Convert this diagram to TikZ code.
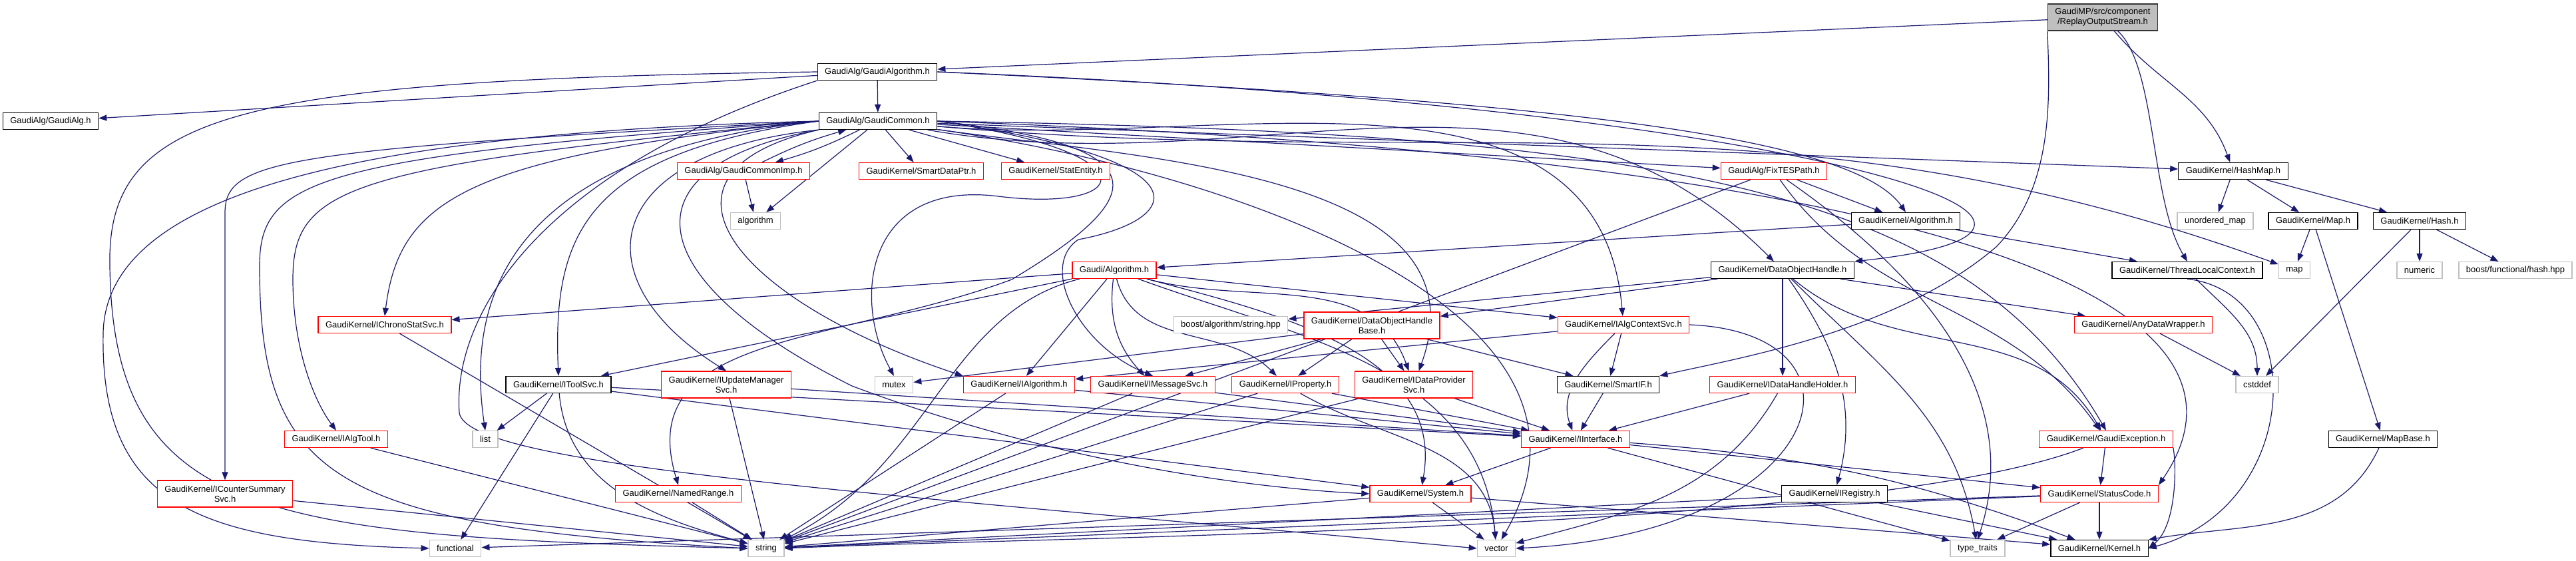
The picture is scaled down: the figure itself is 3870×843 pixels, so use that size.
\documentclass[tikz,border=0pt]{standalone}
\usepackage{fontspec}
\setmainfont{Liberation Sans}
\usetikzlibrary{arrows.meta}
\definecolor{edgeblue}{HTML}{191970}
\definecolor{grey75}{HTML}{BFBFBF}
\newcommand{\graphfont}{\fontsize{1.3}{1.5}\selectfont}
\pgfdeclarelayer{edges}
\pgfsetlayers{edges,main}

\begin{document}
\begin{tikzpicture}[
    x=0.1pt, y=0.1pt,
    docbox/.style={draw=black, fill=white, line width=0.13pt, minimum height=2.5pt, inner xsep=1.1pt, inner ysep=0.2pt, font=\graphfont, align=center},
    redbox/.style={docbox, draw=red},
    sysbox/.style={docbox, draw=grey75},
    rootbox/.style={docbox, fill=grey75, draw=black!80},
    twoline/.style={minimum height=4pt},
    arrow/.style={->, >={Triangle[length=1.2pt, width=0.9pt]}, draw=edgeblue, line width=0.12pt}
]
    \useasboundingbox (0,0) rectangle (3870,-843);

    \node[rootbox, twoline] (R) at (3159,-26) {GaudiMP/src/component\\/ReplayOutputStream.h};
    \node[docbox] (GA) at (1318,-108) {GaudiAlg/GaudiAlgorithm.h};
    \node[docbox] (GAh) at (76,-182) {GaudiAlg/GaudiAlg.h};
    \node[docbox] (GC) at (1319,-182) {GaudiAlg/GaudiCommon.h};
    \node[redbox] (GCImp) at (1117,-257) {GaudiAlg/GaudiCommonImp.h};
    \node[redbox] (SDP) at (1384,-257) {GaudiKernel/SmartDataPtr.h};
    \node[redbox] (StatE) at (1586,-257) {GaudiKernel/StatEntity.h};
    \node[redbox] (FixTES) at (2665,-257) {GaudiAlg/FixTESPath.h};
    \node[docbox] (HM) at (3355,-257) {GaudiKernel/HashMap.h};
    \node[sysbox] (algo) at (1135,-332) {algorithm};
    \node[docbox] (KAlg) at (2863,-332) {GaudiKernel/Algorithm.h};
    \node[sysbox] (umap) at (3328,-332) {unordered\_map};
    \node[docbox] (Map) at (3475,-332) {GaudiKernel/Map.h};
    \node[docbox] (Hash) at (3635,-332) {GaudiKernel/Hash.h};
    \node[redbox] (GAlg) at (1674,-406) {Gaudi/Algorithm.h};
    \node[docbox] (DOH) at (2678,-406) {GaudiKernel/DataObjectHandle.h};
    \node[docbox] (TLC) at (3286,-406) {GaudiKernel/ThreadLocalContext.h};
    \node[sysbox] (map) at (3447,-406) {map};
    \node[sysbox] (numeric) at (3635,-406) {numeric};
    \node[sysbox] (bhash) at (3779,-406) {boost/functional/hash.hpp};
    \node[redbox] (IChrono) at (578,-488) {GaudiKernel/IChronoStatSvc.h};
    \node[sysbox] (bstr) at (1849,-488) {boost/algorithm/string.hpp};
    \node[redbox, twoline] (DOHB) at (2061,-489) {GaudiKernel/DataObjectHandle\\Base.h};
    \node[redbox] (IAlgCtx) at (2439,-488) {GaudiKernel/IAlgContextSvc.h};
    \node[redbox] (ADW) at (3220,-488) {GaudiKernel/AnyDataWrapper.h};
    \node[docbox] (IToolSvc) at (839,-578) {GaudiKernel/IToolSvc.h};
    \node[redbox, twoline] (IUpd) at (1091,-578) {GaudiKernel/IUpdateManager\\Svc.h};
    \node[sysbox] (mutex) at (1343,-578) {mutex};
    \node[redbox] (IAlgo) at (1531,-578) {GaudiKernel/IAlgorithm.h};
    \node[redbox] (IMsg) at (1732,-578) {GaudiKernel/IMessageSvc.h};
    \node[redbox] (IProp) at (1931,-578) {GaudiKernel/IProperty.h};
    \node[redbox, twoline] (IDP) at (2124,-578) {GaudiKernel/IDataProvider\\Svc.h};
    \node[docbox] (SIF) at (2416,-578) {GaudiKernel/SmartIF.h};
    \node[redbox] (IDHH) at (2678,-578) {GaudiKernel/IDataHandleHolder.h};
    \node[sysbox] (cstddef) at (3391,-578) {cstddef};
    \node[redbox] (IAlgTool) at (505,-660) {GaudiKernel/IAlgTool.h};
    \node[sysbox] (list) at (729,-660) {list};
    \node[redbox] (IIf) at (2367,-660) {GaudiKernel/IInterface.h};
    \node[redbox] (GExc) at (3164,-660) {GaudiKernel/GaudiException.h};
    \node[docbox] (MapBase) at (3580,-660) {GaudiKernel/MapBase.h};
    \node[redbox, twoline] (ICnt) at (338,-742) {GaudiKernel/ICounterSummary\\Svc.h};
    \node[redbox] (NR) at (1019,-742) {GaudiKernel/NamedRange.h};
    \node[redbox] (Sys) at (2134,-742) {GaudiKernel/System.h};
    \node[docbox] (IReg) at (2756,-742) {GaudiKernel/IRegistry.h};
    \node[redbox] (SC) at (3154,-742) {GaudiKernel/StatusCode.h};
    \node[sysbox] (functional) at (684,-824) {functional};
    \node[sysbox] (string) at (1151,-824) {string};
    \node[sysbox] (vector) at (2248,-824) {vector};
    \node[sysbox] (ttraits) at (2971,-824) {type\_traits};
    \node[docbox] (Kernel) at (3154,-824) {GaudiKernel/Kernel.h};

    \begin{pgfonlayer}{edges}
    \draw[arrow] (R) -- (GA);
    \draw[arrow] (R) to[out=-50,in=110] (HM);
    \draw[arrow] (R) .. controls (3240,-100) and (3230,-300) .. (TLC.north);
    \draw[arrow] (R.south west) .. controls (3080,-150) and (3085,-280) .. (3000,-370) .. controls (2850,-500) and (2600,-540) .. (SIF.north east);

    \draw[arrow] (GA) -- (GC);
    \draw[arrow] (GA) -- (GAh);
    \draw[arrow] (GA.east) .. controls (2300,-150) and (2780,-200) .. (KAlg.north);
    \draw[arrow] (GA.east) .. controls (2700,-160) and (3280,-340) .. (DOH.north east);
    \draw[arrow] (GA.west) .. controls (350,-120) and (160,-170) .. (165,-400) .. controls (170,-780) and (400,-805) .. (string.west);
    \draw[arrow] (GA.south west) .. controls (800,-260) and (680,-480) .. (690,-620) .. controls (700,-700) and (1300,-740) .. (vector.west);

    \draw[arrow] (GC) to[bend left=5] (GCImp);
    \draw[arrow] (GCImp) to[bend left=5] (GC);
    \draw[arrow] (GC) -- (algo);
    \draw[arrow] (GCImp) -- (algo);
    \draw[arrow] (GC) -- (SDP);
    \draw[arrow] (GC) -- (StatE);
    \draw[arrow] (GC) -- (FixTES);
    \draw[arrow] (GC) -- (HM);
    \draw[arrow] (GC) to[out=-5,in=160] (map);
    \draw[arrow] (GC.west) .. controls (500,-200) and (160,-300) .. (155,-500) .. controls (150,-760) and (300,-815) .. (functional.west);
    \draw[arrow] (GC.west) .. controls (420,-225) and (338,-240) .. (338,-320) -- (ICnt.north);
    \draw[arrow] (GC.west) .. controls (470,-235) and (390,-270) .. (390,-400) .. controls (390,-720) and (500,-790) .. (string.west);
    \draw[arrow] (GC.west) .. controls (520,-250) and (440,-280) .. (440,-420) .. controls (440,-520) and (470,-600) .. (IAlgTool.north);
    \draw[arrow] (GC.west) .. controls (700,-235) and (600,-300) .. (IChrono.north);
    \draw[arrow] (GC.west) .. controls (760,-230) and (700,-450) .. (list.north);
    \draw[arrow] (GC.west) .. controls (880,-230) and (830,-350) .. (IToolSvc.north);
    \draw[arrow] (GC.south west) .. controls (900,-230) and (870,-420) .. (IUpd.north);
    \draw[arrow] (GC.south west) .. controls (950,-260) and (1100,-450) .. (IAlgo.north west);
    \draw[arrow] (GC.south west) .. controls (930,-250) and (960,-420) .. (1280,-580) .. controls (1600,-700) and (1900,-735) .. (Sys.west);
    \draw[arrow] (GC.east) .. controls (1740,-230) and (1700,-320) .. (1500,-295) .. controls (1300,-270) and (1280,-450) .. (mutex.north);
    \draw[arrow] (GC.east) .. controls (1760,-220) and (1720,-300) .. (1520,-420) .. controls (1250,-520) and (950,-500) .. (NR.north);
    \draw[arrow] (GC.east) .. controls (1820,-240) and (1780,-330) .. (1620,-360) .. controls (1560,-400) and (1620,-520) .. (IMsg.north);
    \draw[arrow] (GC) to[out=-8,in=70] (IDP);
    \draw[arrow] (GC) to[out=-5,in=95] (IAlgCtx);
    \draw[arrow] (GC) to[out=-10,in=135] (DOH);
    \draw[arrow] (GC.east) .. controls (2500,-200) and (2950,-280) .. (GExc.north);
    \draw[arrow] (GC.east) .. controls (3000,-240) and (3420,-470) .. (SC.north east);
    \draw[arrow] (GC) to[out=-8,in=60] (vector);

    \draw[arrow] (FixTES) -- (KAlg);
    \draw[arrow] (FixTES) to[out=-55,in=125] (GExc);
    \draw[arrow] (FixTES) .. controls (2900,-420) and (3040,-600) .. (ttraits.north);
    \draw[arrow] (FixTES) -- (string);
    \draw[arrow] (KAlg) -- (GAlg);
    \draw[arrow] (KAlg) -- (TLC);

    \draw[arrow] (HM) -- (umap);
    \draw[arrow] (HM) -- (Map);
    \draw[arrow] (HM) -- (Hash);
    \draw[arrow] (Map) -- (map);
    \draw[arrow] (Map) -- (MapBase);
    \draw[arrow] (Hash) -- (numeric);
    \draw[arrow] (Hash) -- (bhash);
    \draw[arrow] (Hash) -- (cstddef);
    \draw[arrow] (MapBase) to[out=-115,in=10] (Kernel);
    \draw[arrow] (TLC) to[out=-45,in=90] (cstddef);
    \draw[arrow] (TLC.south) .. controls (3470,-440) and (3460,-760) .. (Kernel.east);
    \draw[arrow] (ADW) -- (cstddef);

    \draw[arrow] (GAlg) -- (IChrono);
    \draw[arrow] (GAlg) -- (IToolSvc);
    \draw[arrow] (GAlg) -- (IAlgo);
    \draw[arrow] (GAlg) to[bend right=25] (IMsg);
    \draw[arrow] (GAlg) to[out=-75,in=135] (IProp);
    \draw[arrow] (GAlg) to[out=-15,in=110] (IDP);
    \draw[arrow] (GAlg) -- (IAlgCtx);
    \draw[arrow] (GAlg) to[out=-15,in=80] (Sys);
    \draw[arrow] (GAlg) to[out=-20,in=95] (vector);
    \draw[arrow] (GAlg) .. controls (1420,-470) and (1400,-700) .. (string);

    \draw[arrow] (DOH) -- (DOHB);
    \draw[arrow] (DOH) -- (bstr);
    \draw[arrow] (DOH) -- (ADW);
    \draw[arrow] (DOH) -- (IDHH);
    \draw[arrow] (DOH) to[out=-55,in=75] (IReg);
    \draw[arrow] (DOH) to[out=-40,in=120] (GExc);
    \draw[arrow] (DOH) to[out=-45,in=100] (ttraits);

    \draw[arrow] (DOHB) -- (IProp);
    \draw[arrow] (DOHB) -- (IDP);
    \draw[arrow] (DOHB) -- (SIF);
    \draw[arrow] (DOHB) -- (IMsg);
    \draw[arrow] (DOHB) -- (mutex);

    \draw[arrow] (IAlgCtx) -- (SIF);
    \draw[arrow] (IAlgCtx) -- (IAlgo);
    \draw[arrow] (IAlgCtx) to[out=-135,in=110] (IIf);
    \draw[arrow] (IAlgCtx.east) .. controls (2830,-500) and (2750,-800) .. (vector.east);

    \draw[arrow] (IToolSvc) -- (list);
    \draw[arrow] (IToolSvc) -- (functional);
    \draw[arrow] (IToolSvc) to[out=-85,in=165] (string);
    \draw[arrow] (IToolSvc) -- (IIf);
    \draw[arrow] (IToolSvc) -- (Sys);
    \draw[arrow] (IUpd) -- (string);
    \draw[arrow] (IUpd) -- (IIf);
    \draw[arrow] (NR) -- (string);
    \draw[arrow] (IAlgo) -- (string);
    \draw[arrow] (IAlgo) -- (IIf);
    \draw[arrow] (IMsg) -- (string);
    \draw[arrow] (IMsg) -- (IIf);
    \draw[arrow] (IProp) -- (string);
    \draw[arrow] (IProp) -- (IIf);
    \draw[arrow] (IProp) to[out=-30,in=95] (vector);
    \draw[arrow] (IDP) -- (string);
    \draw[arrow] (IDP) -- (IIf);
    \draw[arrow] (SIF) -- (IIf);
    \draw[arrow] (IDHH) -- (IIf);
    \draw[arrow] (IDHH) to[out=-120,in=15] (vector);

    \draw[arrow] (IIf) -- (Sys);
    \draw[arrow] (IIf) -- (SC);
    \draw[arrow] (IIf) to[bend left=8] (Kernel);
    \draw[arrow] (IIf) -- (ttraits);
    \draw[arrow] (GExc) -- (SC);
    \draw[arrow] (GExc.south east) .. controls (3270,-700) and (3270,-790) .. (Kernel.east);
    \draw[arrow] (GExc) .. controls (2800,-800) and (1600,-805) .. (string.east);
    \draw[arrow] (SC) -- (Kernel);
    \draw[arrow] (SC) -- (ttraits);
    \draw[arrow] (SC) -- (string);
    \draw[arrow] (SC) -- (functional);
    \draw[arrow] (IReg) -- (string);
    \draw[arrow] (IReg) -- (Kernel);
    \draw[arrow] (Sys) -- (string);
    \draw[arrow] (Sys) -- (vector);
    \draw[arrow] (Sys) -- (Kernel);
    \draw[arrow] (IChrono) -- (string);
    \draw[arrow] (IAlgTool) -- (string);
    \draw[arrow] (ICnt) -- (string);
    \end{pgfonlayer}
\end{tikzpicture}
\end{document}
